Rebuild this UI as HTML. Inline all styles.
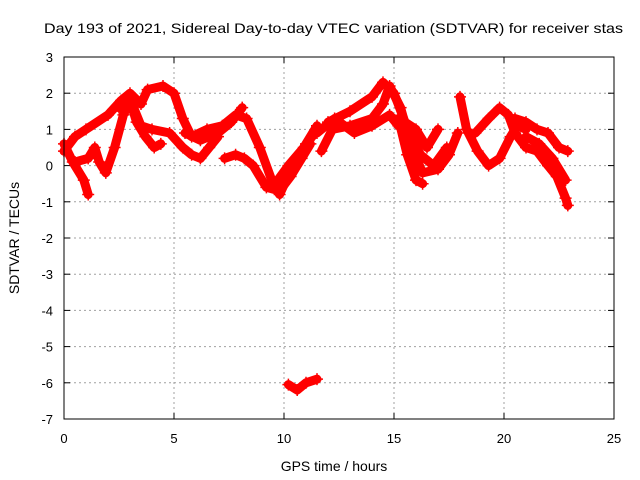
<!DOCTYPE html>
<html><head><meta charset="utf-8"><style>
body{margin:0;background:#fff}
svg{display:block;font-family:"Liberation Sans",sans-serif}
</style></head><body>
<svg id="chart" width="640" height="480" viewBox="0 0 640 480">
<text x="44" y="33" font-size="14" textLength="579" lengthAdjust="spacingAndGlyphs">Day 193 of 2021, Sidereal Day-to-day VTEC variation (SDTVAR) for receiver stas</text>
<g id="grid"></g>
<g id="ticks"></g>
<g id="marks"></g>
<rect x="64" y="57" width="550" height="362" fill="none" stroke="#000" stroke-width="1"/>
<text x="334" y="471" font-size="14" text-anchor="middle">GPS time / hours</text>
<text transform="translate(19,238) rotate(-90)" font-size="14" text-anchor="middle">SDTVAR / TECUs</text>
</svg>
<script>
const xTicks=[0,5,10,15,20,25];
const yTicks=[3,2,1,0,-1,-2,-3,-4,-5,-6,-7];
const track1=[[0,0.4],[0.5,0.8],[1,1.0],[2,1.4],[2.6,1.8],[3,2.0],[3.5,1.7],[3.8,2.1],[4.5,2.2],[5,2.0],[5.4,1.3],[5.8,0.8],[6.5,1.0],[7.2,1.1],[7.8,1.4],[8.3,1.3],[8.9,0.5],[9.5,-0.5],[9.8,-0.8],[10.4,0],[11,0.6],[11.5,1.1]];
const track2=[[0,0.6],[0.4,0.1],[0.9,-0.4],[1.1,-0.8]];
const track3=[[0.5,0.1],[1.1,0.2],[1.4,0.5],[1.6,0.1],[1.9,-0.2],[2.3,0.5],[2.7,1.4],[3.0,1.8],[3.3,1.2],[3.7,0.8],[4.1,0.5],[4.4,0.6]];
const track4=[[2.5,1.6],[3.1,1.7],[3.5,1.1],[4,1.0],[4.8,0.9],[5.4,0.5],[5.8,0.3],[6.2,0.2],[6.6,0.5],[7,0.8]];
const track5=[[7.3,0.2],[7.8,0.3],[8.2,0.2],[8.6,0.0],[9.2,-0.6],[9.8,-0.7],[10.3,-0.3],[10.8,0.2],[11.2,0.6]];
const track6=[[10.2,-6.05],[10.6,-6.2],[11,-6.0],[11.5,-5.9]];
const track7=[[11.7,0.4],[12.2,1.0],[13,1.1],[14,1.3],[14.5,1.7],[14.8,2.2],[15.3,1.6],[15.8,0.5],[16.3,-0.2],[17,-0.1],[17.5,0.3],[17.9,0.9]];
const track8=[[12,1.2],[13,1.5],[14,1.9],[14.5,2.3],[15,2.0],[15.5,1.2],[16,1.0],[16.5,0.5],[17,1.0]];
const track9=[[15.2,1.3],[15.6,0.3],[16.0,-0.4],[16.3,-0.5]];
const track10=[[18.0,1.9],[18.3,1.0],[18.8,0.4],[19.3,0.0],[19.8,0.2],[20.3,0.8],[20.6,1.1],[21,1.0]];
const track11=[[18.7,0.9],[19.3,1.3],[19.8,1.6],[20.2,1.4],[20.5,0.9],[21,0.5],[21.5,0.4],[22,0],[22.4,-0.3],[22.8,-0.9],[22.9,-1.1]];
const track12=[[20.5,1.3],[21,1.2],[21.5,1.0],[22,0.9],[22.5,0.5],[22.9,0.4]];
const track13=[[21,0.8],[21.6,0.6],[22.2,0.2],[22.8,-0.4]];
const track14=[[5.5,0.9],[6.2,0.7],[7,0.9],[7.6,1.2],[8.1,1.6]];
const track15=[[11.5,0.9],[12.3,1.3],[13.2,0.9],[14,1.1],[14.8,1.4],[15.2,1.1]];
const track16=[[9.6,-0.5],[10.2,0.0],[10.9,0.5],[11.4,0.9]];
const track17=[[15.7,1.0],[16.2,0.3],[16.8,0.0],[17.4,0.5]];
const tracks=[track1,track2,track3,track4,track5,track6,track7,track8,track9,track10,track11,track12,track13,track14,track15,track16,track17];

const X0=64,X1=614,Y0=419,Y1=57;
function sx(v){return X0+(v-0)/(25-0)*(X1-X0);}
function sy(v){return Y0-(v-(-7))/(3-(-7))*(Y0-Y1);}
const NS="http://www.w3.org/2000/svg";
function mk(tag,attrs,parent){const e=document.createElementNS(NS,tag);for(const k in attrs)e.setAttribute(k,attrs[k]);parent.appendChild(e);return e;}
const grid=document.getElementById('grid'),ticks=document.getElementById('ticks'),marks=document.getElementById('marks');
xTicks.forEach(t=>{
  const x=sx(t);
  if(t>0&&t<25){const g=mk('line',{x1:x,x2:x,y1:Y0,y2:Y1,stroke:'#a0a0a0','stroke-dasharray':'2,3'},grid);
  
  }
  const l=mk('text',{x:x,y:Y0+24,'font-size':13,'text-anchor':'middle'},ticks);l.textContent=t;
  
  
  mk('line',{x1:x,x2:x,y1:Y0,y2:Y0-6,stroke:'#000'},ticks);
  mk('line',{x1:x,x2:x,y1:Y1,y2:Y1+6,stroke:'#000'},ticks);
});
yTicks.forEach(t=>{
  const y=sy(t);
  if(t<3&&t>-7){const g=mk('line',{x1:X0,x2:X1,y1:y,y2:y,stroke:'#a0a0a0','stroke-dasharray':'2,3'},grid);
  
  }
  const l=mk('text',{x:X0-11,y:y+5,'font-size':13,'text-anchor':'end'},ticks);l.textContent=t;
  
  
  mk('line',{x1:X0,x2:X0+6,y1:y,y2:y,stroke:'#000'},ticks);
  mk('line',{x1:X1,x2:X1-6,y1:y,y2:y,stroke:'#000'},ticks);
});
tracks.forEach((tr,i)=>{
  const p=mk('polyline',{points:tr.map(d=>sx(d[0])+','+sy(d[1])).join(' '),fill:'none',stroke:'#ff0000','stroke-width':9,'stroke-linejoin':'round','stroke-linecap':'round'},marks);
  
  
  tr.forEach(d=>{
    const x=sx(d[0]),y=sy(d[1]);
    const c=mk('path',{d:`M${x-6},${y}H${x+6}M${x},${y-6}V${y+6}`,stroke:'#ff0000','stroke-width':1.5},marks);
    
    
  });
});
</script>
</body></html>
